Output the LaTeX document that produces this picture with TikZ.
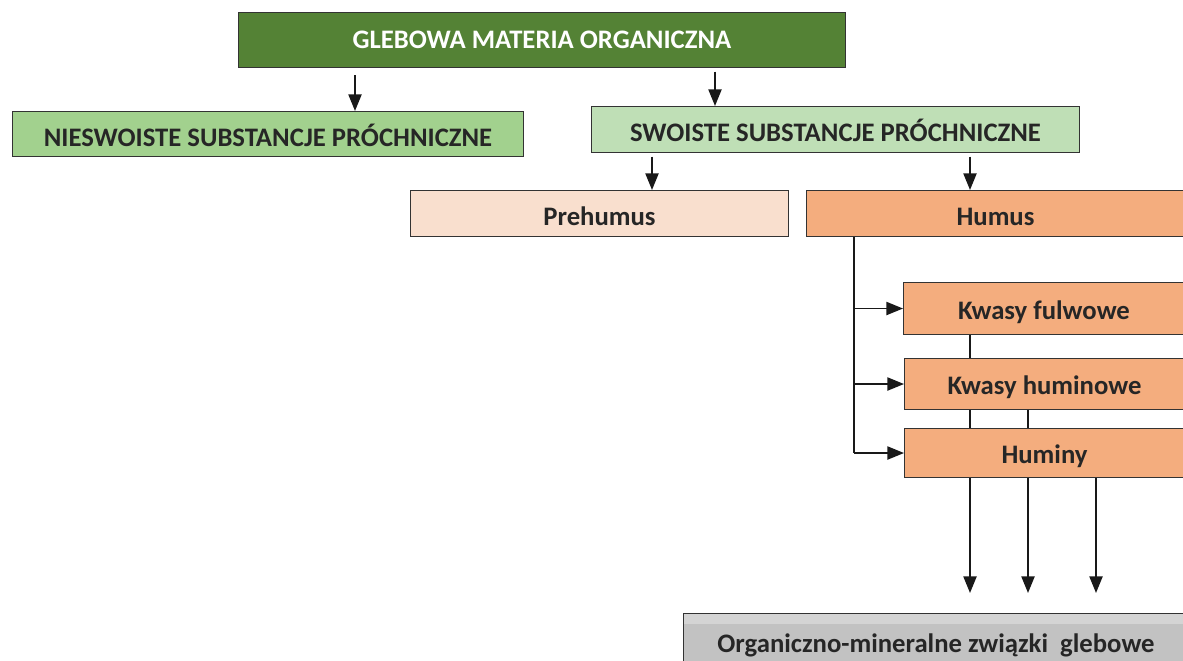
\documentclass[tikz,border=0pt]{standalone}
\usepackage{fontspec}
\setmainfont{Carlito}
\usetikzlibrary{arrows.meta}

\definecolor{ciemnyzielony}{HTML}{548235}
\definecolor{zielony}{HTML}{A2D18E}
\definecolor{jasnyzielony}{HTML}{BFDFB6}
\definecolor{jasnylosos}{HTML}{F9DFCE}
\definecolor{losos}{HTML}{F4AD7E}
\definecolor{szary}{HTML}{C2C2C2}
\definecolor{tekst}{HTML}{262626}

\tikzset{
	box/.style={draw=black!80, line width=0.6pt, anchor=north west, inner sep=0pt,
		text height=14pt, text depth=0pt,
		text=tekst, font=\bfseries\fontsize{15.2}{18}\selectfont},
	frakcja/.style={box, fill=losos, text height=12pt},
	arr/.style={-{Triangle[width=7.5pt,length=9.5pt]}, line width=1pt, black!90},
	link/.style={line width=1pt, black!90},
}

\begin{document}
\begin{tikzpicture}[x=0.02cm,y=-0.02cm]
	\path[use as bounding box, clip] (0,0) rectangle (1183,661);
	%\draw[help lines] (0,0) grid[step=50] (1183,661);
	\node (gmo) [box, fill=ciemnyzielony, text=white, text height=9.8pt, minimum width=12.14cm, minimum height=1.1cm] at (238,12) {GLEBOWA MATERIA ORGANICZNA};
	\node (nsp) [box, fill=zielony, minimum width=10.22cm, minimum height=0.9cm] at (12,111) {NIESWOISTE SUBSTANCJE PRÓCHNICZNE};
	\node (ssp) [box, fill=jasnyzielony, minimum width=9.76cm, minimum height=0.92cm] at (591,106) {SWOISTE SUBSTANCJE PRÓCHNICZNE};
	\node (pre) [box, fill=jasnylosos, minimum width=7.56cm, minimum height=0.92cm] at (410,190) {Prehumus};
	\node (hum) [box, fill=losos, minimum width=7.56cm, minimum height=0.92cm] at (806,190) {Humus};
	\node (kf) [frakcja, minimum width=5.62cm, minimum height=1.04cm] at (903,282) {Kwasy fulwowe};
	\node (kh) [frakcja, minimum width=5.6cm, minimum height=1.02cm] at (904,358) {Kwasy huminowe};
	\node (hmn) [frakcja, minimum width=5.6cm, minimum height=0.98cm] at (904,428) {Huminy};
	\node (omz) [box, fill=szary, text height=12pt, minimum width=10.1cm, minimum height=1.12cm,
		path picture={\fill[black!17] (path picture bounding box.north west) rectangle ([yshift=-0.2cm]path picture bounding box.north east);}] at (683,613) {Organiczno-mineralne związki~~glebowe};

	% polozenia strzalek
	\coordinate (xa) at (355,0);
	\coordinate (xb) at (715,0);
	\coordinate (xc) at (652,0);
	\coordinate (xd) at (970,0);
	\coordinate (xe) at (854,0);
	\coordinate (xf) at (1028,0);
	\coordinate (xg) at (1096,0);
	\coordinate (dol) at (0,593);

	\draw[arr, shorten <=4pt] (gmo.south -| xa) -- (nsp.north -| xa);
	\draw[arr, shorten <=2pt] (gmo.south -| xb) -- (ssp.north -| xb);
	\draw[arr, shorten <=2pt] (ssp.south -| xc) -- (pre.north -| xc);
	\draw[arr, shorten <=2pt] (ssp.south -| xd) -- (hum.north -| xd);

	\draw[link] (hum.south -| xe) -- (hmn.west -| xe);
	\draw[arr] (kf.west -| xe) -- (kf.west);
	\draw[arr] (kh.west -| xe) -- (kh.west);
	\draw[arr] (hmn.west -| xe) -- (hmn.west);

	\draw[link] (kf.south -| xd) -- (kh.north -| xd);
	\draw[link] (kh.south -| xd) -- (hmn.north -| xd);
	\draw[link] (kh.south -| xf) -- (hmn.north -| xf);

	\draw[arr] (hmn.south -| xd) -- (dol -| xd);
	\draw[arr] (hmn.south -| xf) -- (dol -| xf);
	\draw[arr] (hmn.south -| xg) -- (dol -| xg);
\end{tikzpicture}
\end{document}
